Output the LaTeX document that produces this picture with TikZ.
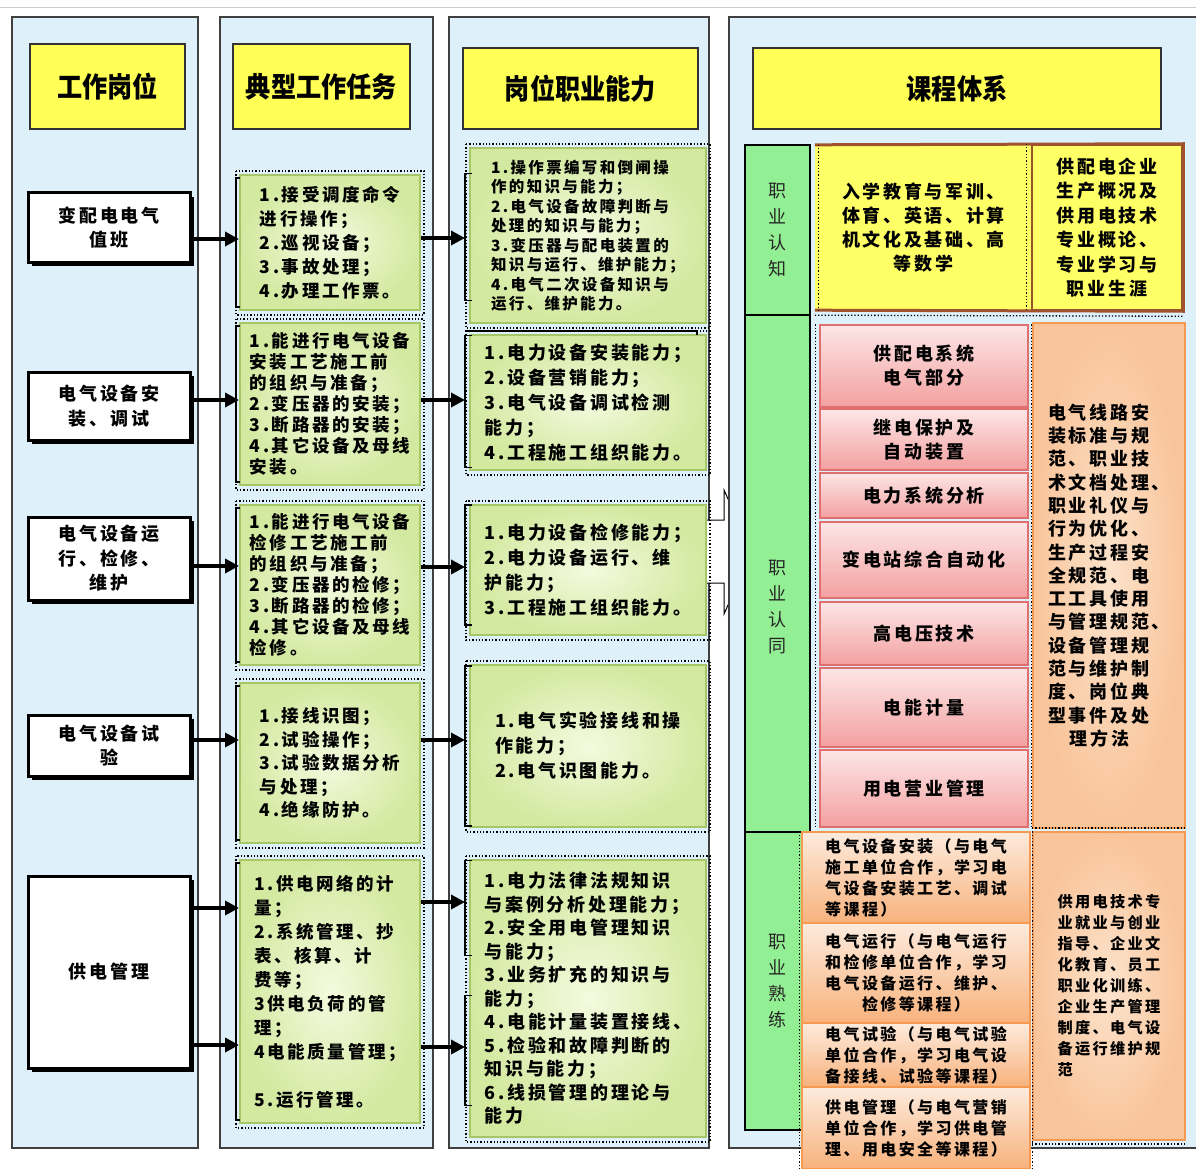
\documentclass[tikz,border=0pt]{standalone}
\usepackage{fontspec}
\setmainfont{Noto Sans CJK SC}[LetterSpace=15]
\newfontfamily\hdfont{Noto Sans CJK SC}[FakeStretch=0.9]
\usetikzlibrary{arrows.meta,shadows,calc}
\definecolor{panelblue}{HTML}{DEF1FA}
\definecolor{hdyellow}{HTML}{FFFF55}
\definecolor{taskin}{HTML}{F4FADF}
\definecolor{taskout}{HTML}{D3E9A0}
\definecolor{taskbd}{HTML}{A6C667}
\definecolor{colgreen}{HTML}{93EF93}
\definecolor{rowyellow}{HTML}{FFFF66}
\definecolor{rowbd}{HTML}{A0522D}
\definecolor{pinktop}{HTML}{FDE6E6}
\definecolor{pinkbot}{HTML}{F3A0A0}
\definecolor{pinkbd}{HTML}{E07070}
\definecolor{orin}{HTML}{FCE3CC}
\definecolor{orout}{HTML}{F9C49A}
\definecolor{orbd}{HTML}{F59A50}
\definecolor{ortop}{HTML}{FDEBDD}
\definecolor{orbot}{HTML}{F8B27C}
\newcommand{\bxn}[7]{\node[#6,minimum width={(#4)-(#2)},minimum height={(#5)-(#3)}] (#1) at ({((#2)+(#4))/2},{((#3)+(#5))/2}) {#7};}
\begin{document}
\begin{tikzpicture}[x=1pt,y=-1pt,
  panel/.style={draw=black!75,line width=1.2pt,fill=panelblue,inner sep=0pt},
  header/.style={draw=black!80,line width=1.5pt,fill=hdyellow,inner sep=0pt,font=\hdfont\bfseries\fontsize{28}{32}\selectfont},
  job/.style={draw=black,line width=3pt,fill=white,drop shadow={shadow xshift=4pt,shadow yshift=-4pt,opacity=1,fill=black},align=center,inner sep=0pt,font=\bfseries\fontsize{18}{24.5}\selectfont},
  task/.style={draw=taskbd,line width=2pt,inner color=taskin,outer color=taskout,align=left,inner sep=0pt},
  gcol/.style={draw=black,line width=1.2pt,fill=colgreen,inner sep=0pt},
  vlab/.style={align=center,inner sep=0pt,text=black!85,font=\fontsize{18}{26}\selectfont},
  pinkbox/.style={top color=pinktop,bottom color=pinkbot,draw=pinkbd,line width=1.5pt,align=center,inner sep=0pt,font=\bfseries\fontsize{18}{24}\selectfont},
  orpanel/.style={inner color=orin,outer color=orout,draw=orbd,line width=2pt,inner sep=0pt},
  orbox/.style={top color=ortop,bottom color=orbot,draw=orbd,line width=1.5pt,inner sep=0pt,font=\bfseries\fontsize{16}{21}\selectfont},
  dotfr/.style={black,dotted,line width=1.3pt},
  brk/.style={black,line width=1.5pt},
  arr/.style={line width=3.5pt,-{Triangle[length=14pt,width=14pt]}}
]
\useasboundingbox (0,0) rectangle (1196,1169);
\fill[white] (0,0) rectangle (1196,1169);
\draw[gray!40,line width=1pt] (0,8) -- (1196,8);
% column panels
\bxn{p1}{12}{17}{198}{1148}{panel}{}
\bxn{p2}{220}{17}{433}{1148}{panel}{}
\bxn{p3}{449}{17}{709}{1148}{panel}{}
\filldraw[fill=white,draw=black,line width=1pt] (706,520) -- (724,520) -- (724,490) -- (752,552) -- (724,614) -- (724,583) -- (706,583) -- cycle;
\bxn{p4}{729}{17}{1205}{1148}{panel}{}
% headers
\bxn{h1}{30}{44}{185}{129}{header}{工作岗位}
\bxn{h2}{233}{44}{410}{129}{header}{典型工作任务}
\bxn{h3}{463}{48}{698}{129}{header}{岗位职业能力}
\bxn{h4}{753}{48}{1161}{129}{header}{课程体系}
% job positions
\bxn{j1}{28}{193}{190}{262}{job}{变配电电气\\值班}
\bxn{j2}{28}{372}{190}{440}{job}{电气设备安\\装、调试}
\bxn{j3}{28}{517}{190}{600}{job}{电气设备运\\行、检修、\\维护}
\bxn{j4}{28}{715}{190}{776}{job}{电气设备试\\验}
\bxn{j5}{28}{876}{190}{1068}{job}{供电管理}
% typical tasks
\bxn{t1}{240}{175}{420}{310}{task,font=\bfseries\fontsize{17.5}{24}\selectfont}{1.接受调度命令\\进行操作；\\2.巡视设备；\\3.事故处理；\\4.办理工作票。}
\bxn{t2}{240}{323}{420}{485}{task,font=\bfseries\fontsize{17.5}{21}\selectfont}{1.能进行电气设备\\安装工艺施工前\\的组织与准备；\\2.变压器的安装；\\3.断路器的安装；\\4.其它设备及母线\\安装。}
\bxn{t3}{240}{505}{420}{665}{task,font=\bfseries\fontsize{17.5}{21}\selectfont}{1.能进行电气设备\\检修工艺施工前\\的组织与准备；\\2.变压器的检修；\\3.断路器的检修；\\4.其它设备及母线\\检修。}
\bxn{t4}{240}{683}{420}{843}{task,font=\bfseries\fontsize{17.5}{23.5}\selectfont}{1.接线识图；\\2.试验操作；\\3.试验数据分析\\与处理；\\4.绝缘防护。}
\bxn{t5}{240}{860}{420}{1123}{task,font=\bfseries\fontsize{17.5}{24}\selectfont}{1.供电网络的计\\量；\\2.系统管理、抄\\表、核算、计\\费等；\\3供电负荷的管\\理；\\4电能质量管理；\\[24pt]5.运行管理。}
% abilities
\bxn{c1}{470}{148}{706}{323}{task,font=\bfseries\fontsize{15.5}{19.5}\selectfont}{1.操作票编写和倒闸操\\作的知识与能力；\\2.电气设备故障判断与\\处理的知识与能力；\\3.变压器与配电装置的\\知识与运行、维护能力；\\4.电气二次设备知识与\\运行、维护能力。}
\bxn{c2}{470}{335}{706}{470}{task,font=\bfseries\fontsize{18}{25}\selectfont}{1.电力设备安装能力；\\2.设备营销能力；\\3.电气设备调试检测\\能力；\\4.工程施工组织能力。}
\bxn{c3}{470}{505}{706}{635}{task,font=\bfseries\fontsize{18}{25}\selectfont}{1.电力设备检修能力；\\2.电力设备运行、维\\护能力；\\3.工程施工组织能力。}
\bxn{c4}{470}{665}{706}{827}{task,font=\bfseries\fontsize{18}{25}\selectfont}{1.电气实验接线和操\\作能力；\\2.电气识图能力。}
\bxn{c5}{470}{860}{706}{1137}{task,font=\bfseries\fontsize{18}{23.5}\selectfont}{1.电力法律法规知识\\与案例分析处理能力；\\2.安全用电管理知识\\与能力；\\3.业务扩充的知识与\\能力；\\4.电能计量装置接线、\\5.检验和故障判断的\\知识与能力；\\6.线损管理的理论与\\能力}
% course system: stage column
\bxn{g1}{745}{145}{810}{315}{gcol}{}
\bxn{g2}{745}{315}{810}{832}{gcol}{}
\bxn{g3}{745}{832}{810}{1130}{gcol}{}
\node[vlab] (l1) at (g1.center) {职\\业\\认\\知};
\node[vlab] (l2) at ([yshift=-34pt]g2.center) {职\\业\\认\\同};
\node[vlab] (l3) at (g3.center) {职\\业\\熟\\练};
% row 1
\bxn{r1a}{815}{145}{1032}{310}{fill=rowyellow,align=center,inner sep=0pt,font=\bfseries\fontsize{18}{24}\selectfont}{入学教育与军训、\\体育、英语、计算\\机文化及基础、高\\等数学}
\bxn{r1b}{1032}{145}{1182}{310}{fill=rowyellow,draw=rowbd,line width=2.5pt,align=center,inner sep=0pt,font=\bfseries\fontsize{18}{24.5}\selectfont}{供配电企业\\生产概况及\\供用电技术\\专业概论、\\专业学习与\\职业生涯}
\draw[rowbd,line width=3pt] (r1a.north west) -- (r1b.north east) -- (r1b.south east) -- (r1a.south west);
\draw[dotfr] ([xshift=4pt]r1a.north west) -- ([xshift=4pt]r1a.south west);
\draw[dotfr] ([xshift=-4pt]r1b.north west) -- ([xshift=-4pt]r1b.south west);
\draw[dotfr] ([yshift=-5pt]r1a.south west) -- ([yshift=-5pt]r1b.south east);
% row 2
\bxn{r2r}{1033}{323}{1185}{828}{orpanel,align=left,font=\bfseries\fontsize{18}{23.3}\selectfont}{电气线路安\\装标准与规\\范、职业技\\术文档处理、\\职业礼仪与\\行为优化、\\生产过程安\\全规范、电\\工工具使用\\与管理规范、\\设备管理规\\范与维护制\\度、岗位典\\型事件及处\\\hspace*{1.2em}理方法}
\bxn{k1}{820}{325}{1028}{407}{pinkbox}{供配电系统\\电气部分}
\bxn{k2}{820}{409}{1028}{470}{pinkbox}{继电保护及\\自动装置}
\bxn{k3}{820}{473}{1028}{518}{pinkbox}{电力系统分析}
\bxn{k4}{820}{522}{1028}{598}{pinkbox}{变电站综合自动化}
\bxn{k5}{820}{602}{1028}{665}{pinkbox}{高电压技术}
\bxn{k6}{820}{668}{1028}{747}{pinkbox}{电能计量}
\bxn{k7}{820}{750}{1028}{827}{pinkbox}{用电营业管理}
\draw[dotfr] ([xshift=-4pt]k1.north west) -- ([xshift=-4pt]k7.south west);
\draw[dotfr] ([xshift=3pt]k1.north east) -- ([xshift=3pt]k7.south east);
% row 3
\bxn{o5}{1033}{832}{1185}{1140}{orpanel,align=left,font=\bfseries\fontsize{15.2}{21}\selectfont}{供用电技术专\\业就业与创业\\指导、企业文\\化教育、员工\\职业化训练、\\企业生产管理\\制度、电气设\\备运行维护规\\范}
\draw[dotfr] ([yshift=-3pt]o5.south west) -- ([yshift=-3pt]o5.south east);
\draw[dotfr] ([yshift=3pt]o5.north west) -- ([yshift=3pt]o5.north east);
\bxn{o1}{802}{832}{1030}{923}{orbox,align=left}{电气设备安装（与电气\\施工单位合作，学习电\\气设备安装工艺、调试\\等课程）}
\bxn{o2}{802}{923}{1030}{1023}{orbox,align=center}{电气运行（与电气运行\\和检修单位合作，学习\\电气设备运行、维护、\\检修等课程）}
\bxn{o3}{802}{1023}{1030}{1087}{orbox,align=left}{电气试验（与电气试验\\单位合作，学习电气设\\备接线、试验等课程）}
\bxn{o4}{802}{1087}{1030}{1169}{orbox,align=left}{供电管理（与电气营销\\单位合作，学习供电管\\理、用电安全等课程）}
\draw[dotfr] ([xshift=-2pt]o1.north west) -- ([xshift=-2pt]o4.south west);
\draw[dotfr] ([xshift=2pt]o1.north east) -- ([xshift=2pt]o4.south east);
% dotted frames and brackets, columns 2 and 3
\foreach \n in {t1,t2,t3,t4,t5,c1,c2,c3,c4,c5}{
  \draw[dotfr] ([shift={(-3,-3)}]\n.north west) rectangle ([shift={(3,4)}]\n.south east);
}
\foreach \n in {t1,t2,t3,t4,t5}{
  \draw[brk] ([shift={(1,4)}]\n.north west) -- ++(-4,0) -- ([shift={(-3,-4)}]\n.south west) -- ++(4,0);
}
\draw[brk] ($(c1.west)+(3,-62)$) -- ++(-7,0) -- ++(0,127) -- ++(7,0);
\draw[brk] ($(c2.west)+(3,-67)$) -- ++(-7,0) -- ++(0,132) -- ++(7,0);
\draw[brk] ($(c2.north west)+(-4,-3)$) -- ($(c2.north east)+(-10,-3)$) -- ++(0,4);
\draw[brk] ($(c3.west)+(3,-65)$) -- ++(-7,0) -- ++(0,120) -- ++(7,0);
\draw[brk] ($(c4.west)+(3,-80)$) -- ++(-7,0) -- ++(0,160) -- ++(7,0);
\draw[brk] ($(c5.west)+(3,-138)$) -- ++(-7,0) -- ++(0,95) -- ++(7,0);
\draw[brk] ($(c5.west)+(3,-3)$) -- ++(-7,0) -- ++(0,110) -- ++(7,0);
% arrows job -> task
\draw[arr] (j1.east |- 0,239) -- (t1.west |- 0,239);
\draw[arr] (j2.east |- 0,400) -- (t2.west |- 0,400);
\draw[arr] (j3.east |- 0,566) -- (t3.west |- 0,566);
\draw[arr] (j4.east |- 0,740) -- (t4.west |- 0,740);
\draw[arr] (j5.east |- 0,908) -- (t5.west |- 0,908);
\draw[arr] (j5.east |- 0,1045) -- (t5.west |- 0,1045);
% arrows task -> ability
\draw[arr] (t1.east |- 0,238) -- ([xshift=-4pt]c1.west |- 0,238);
\draw[arr] (t2.east |- 0,400) -- ([xshift=-4pt]c2.west |- 0,400);
\draw[arr] (t3.east |- 0,567) -- ([xshift=-4pt]c3.west |- 0,567);
\draw[arr] (t4.east |- 0,740) -- ([xshift=-4pt]c4.west |- 0,740);
\draw[arr] (t5.east |- 0,902) -- ([xshift=-4pt]c5.west |- 0,902);
\draw[arr] (t5.east |- 0,1047) -- ([xshift=-4pt]c5.west |- 0,1047);
\end{tikzpicture}
\end{document}
